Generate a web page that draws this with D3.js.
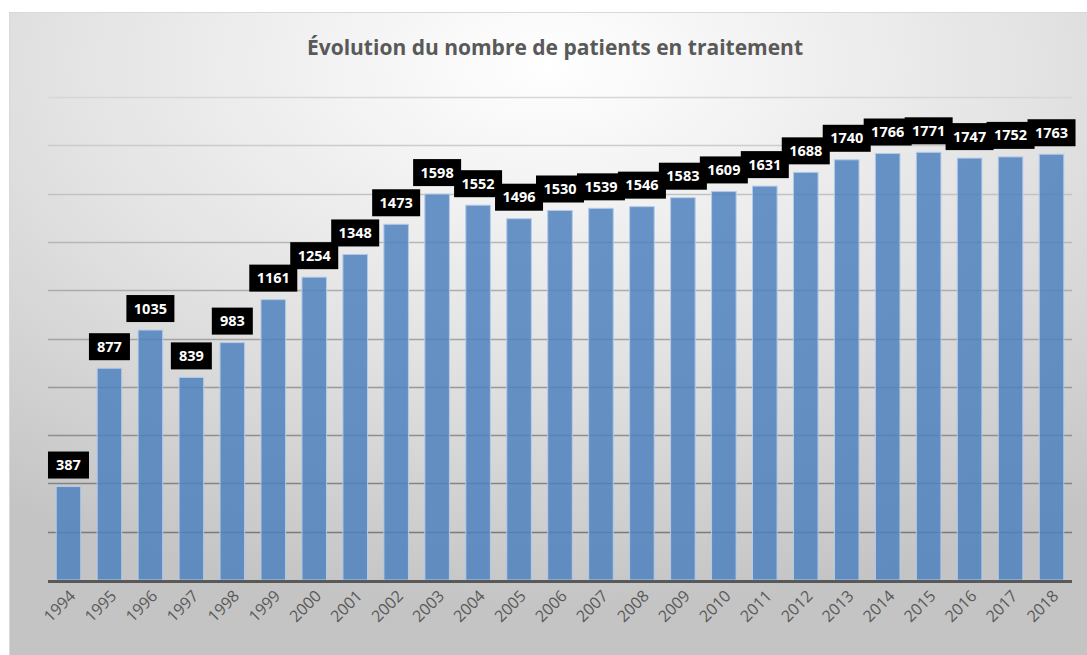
<!DOCTYPE html>
<html>
<head>
<meta charset="utf-8">
<script src="https://cdn.jsdelivr.net/npm/d3@7"></script>
<style>
  html, body { margin: 0; padding: 0; background: #fff; }
  svg { display: block; }
  .year { font-family: 'Open Sans', sans-serif; font-size: 16px; fill: #595959; text-anchor: end; }
</style>
</head>
<body>
<div id="app"></div>
<script>
// données
const years = ['1994','1995','1996','1997','1998','1999','2000','2001','2002','2003','2004','2005','2006',
  '2007','2008','2009','2010','2011','2012','2013','2014','2015','2016','2017','2018']
const patients = [387, 877, 1035, 839, 983, 1161, 1254, 1348, 1473, 1598, 1552, 1496, 1530,
  1539, 1546, 1583, 1609, 1631, 1688, 1740, 1766, 1771, 1747, 1752, 1763]
const gridValues = [200, 400, 600, 800, 1000, 1200, 1400, 1600, 1800, 2000]
const title = 'Évolution du nombre de patients en traitement'

const W = 1087, H = 655
const dataset = years.map((y, i) => ({ year: y, value: patients[i] }))

const svg = d3.select('#app').append('svg')
  .attr('width', W)
  .attr('height', H)

// fond dégradé radial
const defs = svg.append('defs')
const grad = defs.append('radialGradient')
  .attr('id', 'bg')
  .attr('cx', 0.5).attr('cy', 0.08).attr('r', 0.85)
grad.append('stop').attr('offset', '0%').attr('stop-color', '#ffffff')
grad.append('stop').attr('offset', '55%').attr('stop-color', '#e2e2e2')
grad.append('stop').attr('offset', '100%').attr('stop-color', '#c4c4c4')

svg.append('rect')
  .attr('x', 9.5).attr('y', 12.5)
  .attr('width', W - 9).attr('height', H - 12)
  .attr('fill', 'url(#bg)')
  .attr('stroke', '#d9d9d9')

// échelles
const x = d3.scaleBand()
  .domain(years)
  .range([48, 1072])
  .paddingInner(0.4)
  .paddingOuter(0.2)

const y = d3.scaleLinear()
  .domain([0, 2000])
  .range([580, 97])

const gridColor = d3.scaleLinear()
  .domain([200, 2000])
  .range(['#7a7a7a', '#d6d6d6'])

// quadrillage
svg.append('g')
  .selectAll('line')
  .data(gridValues)
  .enter()
  .append('line')
  .attr('x1', 48).attr('x2', 1072)
  .attr('y1', d => Math.round(y(d)) + 0.5)
  .attr('y2', d => Math.round(y(d)) + 0.5)
  .attr('stroke', d => gridColor(d))
  .attr('stroke-width', 1.5)

// barres
svg.append('g')
  .selectAll('rect')
  .data(dataset)
  .enter()
  .append('rect')
  .attr('x', d => x(d.year))
  .attr('y', d => y(d.value))
  .attr('width', x.bandwidth())
  .attr('height', d => y(0) - y(d.value))
  .attr('fill', '#4f81bd')
  .attr('fill-opacity', 0.85)
  .attr('stroke', '#b4cbe8')
  .attr('stroke-width', 1)

// axe des x (ligne seulement)
const gx = svg.append('g')
  .attr('transform', `translate(0, ${y(0)})`)
  .call(d3.axisBottom(x).tickSize(0).tickFormat(''))
gx.select('.domain')
  .attr('stroke', '#595959')
  .attr('stroke-width', 3)
  .attr('d', 'M48,1.5H1072')

// étiquettes des années, inclinées à -45° (transform CSS)
svg.append('g')
  .selectAll('text')
  .data(years)
  .enter()
  .append('text')
  .attr('class', 'year')
  .style('transform-box', 'view-box')
  .style('transform-origin', '0 0')
  .style('transform', d => `translate(${x(d) + x.bandwidth() / 2 + 8}px, 597px) rotate(-45deg)`)
  .text(d => d)

// étiquettes de données
const labels = svg.append('g')
  .selectAll('g')
  .data(dataset)
  .enter()
  .append('g')
  .attr('transform', d => `translate(${x(d.year) + x.bandwidth() / 2}, ${y(d.value) - 8})`)

labels.append('rect')
  .attr('x', d => String(d.value).length > 3 ? -24 : -20.5)
  .attr('y', -27)
  .attr('width', d => String(d.value).length > 3 ? 48 : 41)
  .attr('height', 27)
  .attr('fill', '#000')

labels.append('text')
  .attr('text-anchor', 'middle')
  .attr('y', -8.5)
  .attr('font-family', 'Open Sans, sans-serif')
  .attr('font-weight', 'bold')
  .attr('font-size', 14.5)
  .attr('fill', '#fff')
  .text(d => d.value)

// titre
svg.append('text')
  .attr('x', 555)
  .attr('y', 55)
  .attr('text-anchor', 'middle')
  .attr('font-family', 'Open Sans, sans-serif')
  .attr('font-weight', 'bold')
  .attr('font-size', 21)
  .attr('fill', '#595959')
  .text(title)
</script>
</body>
</html>
